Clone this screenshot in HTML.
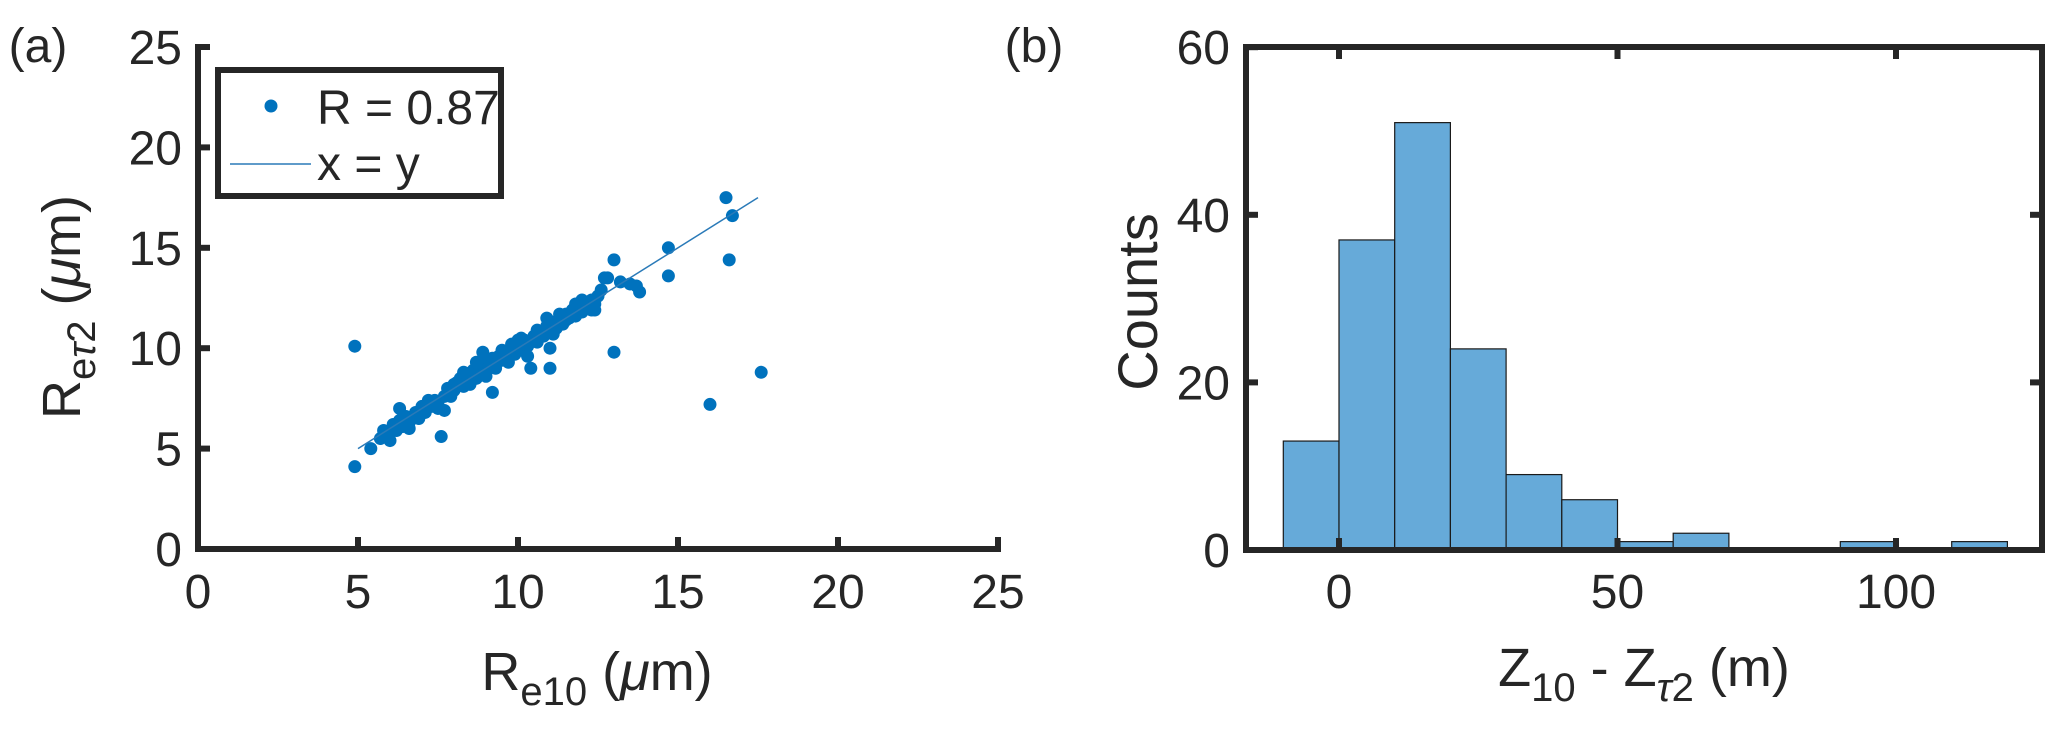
<!DOCTYPE html>
<html><head><meta charset="utf-8">
<style>
html,body{margin:0;padding:0;background:#fff;}
svg{display:block;}
text{font-family:"Liberation Sans",sans-serif;fill:#262626;}
</style></head>
<body>
<svg id="fig" width="2067" height="740" viewBox="0 0 2067 740" xmlns="http://www.w3.org/2000/svg">
  <g id="pa"></g>
  <g id="pb"></g>
</svg>
<script>
// ---- Panel (a) data ----
const scatterX = [4.9,4.9,5.4,7.6,9.2,11.0,11.0,13.0,13.0,14.7,14.7,16.5,16.7,16.6,16.0,17.6,12.8,13.2,13.5,13.8,13.7,6.3,7.7,10.4,
5.7,5.8,5.9,6.0,6.1,6.2,6.3,6.4,6.5,6.6,6.8,6.9,7.0,7.1,7.2,7.3,7.4,7.5,7.7,7.8,7.9,8.0,8.0,8.1,8.2,8.3,8.4,8.5,8.6,8.7,8.8,8.8,8.9,9.0,9.0,9.1,9.2,9.3,9.4,9.5,9.6,9.7,9.8,9.9,10.0,10.1,10.2,10.3,10.5,10.6,10.7,10.8,10.9,11.0,11.1,11.2,11.3,11.4,11.5,11.6,11.7,11.8,11.9,12.0,12.1,12.2,12.3,12.4,12.5,12.6,
6.0,6.6,7.2,7.9,8.5,8.9,9.3,9.7,10.1,10.6,11.3,11.8,12.3,8.7,9.0,9.5,10.0,10.3,11.5,12.0,8.3,7.5,6.8,5.8,9.8,10.9,11.1,12.4,12.7];
const scatterY = [4.1,10.1,5.0,5.6,7.8,10.0,9.0,9.8,14.4,15.0,13.6,17.5,16.6,14.4,7.2,8.8,13.5,13.3,13.2,12.8,13.1,7.0,6.9,9.0,
5.5,5.9,5.6,5.8,6.2,5.9,6.4,6.1,6.6,6.3,6.8,6.5,7.1,6.8,7.2,7.1,7.4,7.3,7.6,8.0,7.8,8.2,7.9,8.3,8.5,8.1,8.6,8.4,8.9,8.5,9.0,8.7,9.2,8.8,9.3,9.1,9.5,9.0,9.6,9.4,9.8,9.5,10.0,9.7,10.1,9.9,10.4,10.1,10.6,10.3,10.8,10.6,11.1,10.8,11.3,11.0,11.5,11.2,11.7,11.5,11.9,11.6,12.1,11.8,12.3,12.0,12.4,12.2,12.6,12.9,
5.4,6.0,7.4,7.6,8.2,9.8,9.2,9.3,10.5,10.9,11.7,12.2,11.9,9.3,8.6,9.9,10.4,9.6,11.4,12.4,8.8,7.0,6.6,5.7,10.2,11.5,10.7,11.9,13.5];
const aXTicks = [0,5,10,15,20,25];
const aYTicks = [0,5,10,15,20,25];
const lineXY = [5,17.5];

// ---- Panel (b) data ----
const binEdges = [-10,0,10,20,30,40,50,60,70,80,90,100,110,120];
const binCounts = [13,37,51,24,9,6,1,2,0,0,1,0,1];
const bXTicks = [0,50,100];
const bYTicks = [0,20,40,60];

const NS="http://www.w3.org/2000/svg";
function mk(parent,tag,attrs,txt){const e=document.createElementNS(NS,tag);for(const k in attrs)e.setAttribute(k,attrs[k]);if(txt!==undefined)e.textContent=txt;parent.appendChild(e);return e;}

const TF=48;
const ax = v => 198 + v*32;
const ay = v => 549 - v*20.08;
const pa = document.getElementById('pa');
let t;
t=mk(pa,'text',{x:38,y:62,'font-size':48,'text-anchor':'middle'},'(a)');


const pts = mk(pa,'g',{});


for(let i=0;i<scatterX.length;i++){
  const c=mk(pts,'circle',{cx:ax(scatterX[i]),cy:ay(scatterY[i]),r:6.5,fill:'#0072bd'});
  
  
}
const ln=mk(pa,'line',{x1:ax(lineXY[0]),y1:ay(lineXY[0]),x2:ax(lineXY[1]),y2:ay(lineXY[1]),stroke:'#2a7ab8','stroke-width':1.5});


const axa=mk(pa,'path',{d:`M${ax(0)} ${ay(25)-3} V${ay(0)} H${ax(25)+3}`,fill:'none',stroke:'#262626','stroke-width':6});


aXTicks.forEach(v=>{
  mk(pa,'line',{x1:ax(v),y1:ay(0),x2:ax(v),y2:ay(0)-12,stroke:'#262626','stroke-width':6});
  const tl=mk(pa,'text',{x:ax(v),y:608,'font-size':TF,'text-anchor':'middle'},v);
  
  
});
aYTicks.forEach(v=>{
  mk(pa,'line',{x1:ax(0),y1:ay(v),x2:ax(0)+12,y2:ay(v),stroke:'#262626','stroke-width':6});
  const tl=mk(pa,'text',{x:182,y:ay(v)+17,'font-size':TF,'text-anchor':'end'},v);
  
  
});
t=mk(pa,'text',{x:597,y:690,'font-size':54,'text-anchor':'middle'});
t.innerHTML='R<tspan dy="15" font-size="40">e10</tspan><tspan dy="-15"> (</tspan><tspan font-style="italic">μ</tspan>m)';


t=mk(pa,'text',{x:0,y:0,'font-size':54,'text-anchor':'middle',transform:'translate(80,307) rotate(-90)'});
t.innerHTML='R<tspan dy="15" font-size="40">e<tspan font-style="italic">τ</tspan>2</tspan><tspan dy="-15"> (</tspan><tspan font-style="italic">μ</tspan>m)';


const lg=mk(pa,'g',{});


mk(lg,'rect',{x:218,y:70,width:283,height:126,fill:'#fff',stroke:'#262626','stroke-width':6});
mk(lg,'circle',{cx:271,cy:106,r:6.5,fill:'#0072bd'});
t=mk(lg,'text',{x:317,y:124,'font-size':TF},'R = 0.87');


mk(lg,'line',{x1:230,y1:164,x2:311,y2:164,stroke:'#2a7ab8','stroke-width':1.5});
t=mk(lg,'text',{x:317,y:180,'font-size':TF},'x = y');



const bx = v => 1339 + v*5.57;
const by = v => 550 - v*8.38;
const pb=document.getElementById('pb');
t=mk(pb,'text',{x:1034,y:62,'font-size':48,'text-anchor':'middle'},'(b)');


for(let i=0;i<binCounts.length;i++){
  if(binCounts[i]<=0) continue;
  const r=mk(pb,'rect',{x:bx(binEdges[i]),y:by(binCounts[i]),width:bx(binEdges[i+1])-bx(binEdges[i]),height:by(0)-by(binCounts[i]),fill:'#66aad9',stroke:'#1a1a1a','stroke-width':1.2});
  
  
}
const L=1246,R=2042,T=47,B=550;
const box=mk(pb,'rect',{x:L,y:T,width:R-L,height:B-T,fill:'none',stroke:'#262626','stroke-width':6});


bXTicks.forEach(v=>{
  mk(pb,'line',{x1:bx(v),y1:B,x2:bx(v),y2:B-12,stroke:'#262626','stroke-width':6});
  mk(pb,'line',{x1:bx(v),y1:T,x2:bx(v),y2:T+12,stroke:'#262626','stroke-width':6});
  const tl=mk(pb,'text',{x:bx(v),y:608,'font-size':TF,'text-anchor':'middle'},v);
  
  
});
bYTicks.forEach(v=>{
  mk(pb,'line',{x1:L,y1:by(v),x2:L+12,y2:by(v),stroke:'#262626','stroke-width':6});
  mk(pb,'line',{x1:R,y1:by(v),x2:R-12,y2:by(v),stroke:'#262626','stroke-width':6});
  const tl=mk(pb,'text',{x:1230,y:by(v)+17,'font-size':TF,'text-anchor':'end'},v);
  
  
});
t=mk(pb,'text',{x:1644,y:686,'font-size':54,'text-anchor':'middle'});
t.innerHTML='Z<tspan dy="15" font-size="40">10</tspan><tspan dy="-15"> - Z</tspan><tspan dy="15" font-size="40"><tspan font-style="italic">τ</tspan>2</tspan><tspan dy="-15"> (m)</tspan>';


t=mk(pb,'text',{x:0,y:0,'font-size':56,'text-anchor':'middle',transform:'translate(1157,302) rotate(-90)'},'Counts');


</script>
</body></html>
